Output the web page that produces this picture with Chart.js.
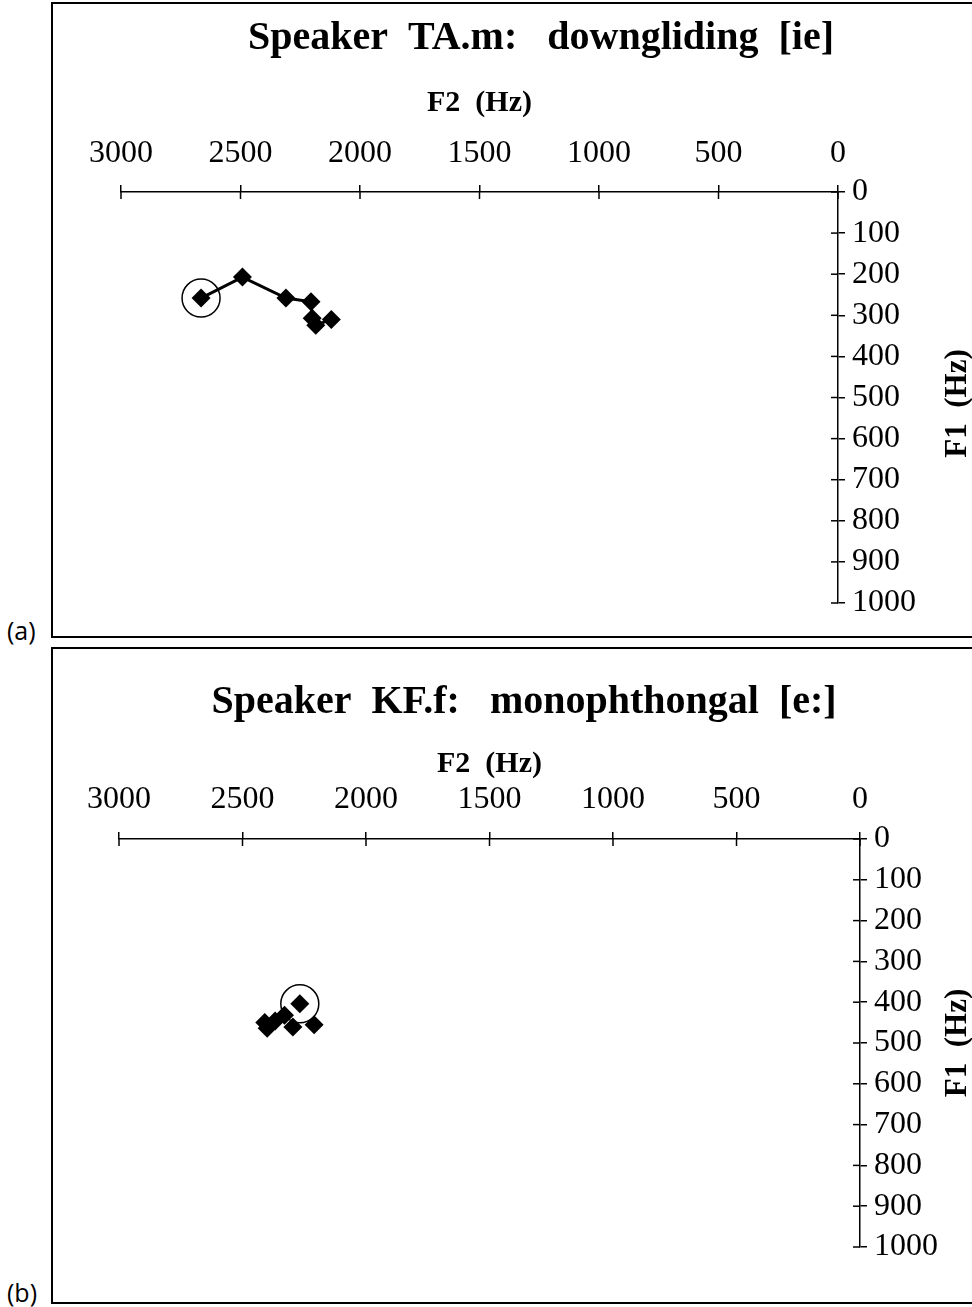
<!DOCTYPE html>
<html>
<head>
<meta charset="utf-8">
<script src="https://cdn.jsdelivr.net/npm/chart.js@4.4.1/dist/chart.umd.min.js"></script>
<style>
  html, body { margin: 0; padding: 0; background: #fff; }
  body { width: 972px; height: 1307px; position: relative; overflow: hidden; }
  .panel { position: absolute; left: 51px; width: 940px; border-left: 2px solid #000; border-top: 2px solid #000; border-bottom: 2px solid #000; box-sizing: border-box; }
  .plabel { position: absolute; left: 7px; font-family: "Open Sans", sans-serif; font-size: 25px; color: #000; }
  .wrap { position: absolute; left: 0; width: 972px; }
</style>
</head>
<body>
<div class="panel" style="top:2px;height:636px;"></div>
<div class="panel" style="top:647px;height:657px;"></div>
<div class="plabel" style="top:613px;">(a)</div>
<div class="plabel" style="top:1275px;">(b)</div>
<div class="wrap" style="top:0px;height:640px;"><canvas id="ca"></canvas></div>
<div class="wrap" style="top:645px;height:662px;"><canvas id="cb"></canvas></div>
<script>
// ---- data (F2 = x, F1 = y, in Hz) ----
const f2Range = [0, 3000];
const f1Range = [0, 1000];
const f2Step = 500;
const f1Step = 100;

const titleA = "Speaker  TA.m:   downgliding  [ie]";
const titleB = "Speaker  KF.f:   monophthongal  [e:]";
const xTitle = "F2  (Hz)";
const yTitle = "F1  (Hz)";

// panel (a): downgliding [ie], points in time order
const aF2 = [2665, 2492, 2310, 2205, 2200, 2185, 2120];
const aF1 = [258, 207, 258, 267, 307, 324, 310];
// panel (b): monophthongal [e:]
const bF2 = [2268, 2210, 2296, 2330, 2368, 2410, 2400];
const bF1 = [404, 455, 461, 432, 446, 450, 464];

function pts(xs, ys) { return xs.map((x, i) => ({ x: x, y: ys[i] })); }

const innerTicks = {
  id: 'innerTicks',
  afterDraw(chart) {
    const ctx = chart.ctx;
    const ca = chart.chartArea;
    ctx.save();
    ctx.strokeStyle = '#000';
    ctx.lineWidth = 1.5;
    const xs = chart.scales.x;
    xs.ticks.forEach((t, i) => {
      const px = xs.getPixelForTick(i);
      ctx.beginPath(); ctx.moveTo(px, ca.top); ctx.lineTo(px, ca.top + 7); ctx.stroke();
    });
    const ys = chart.scales.y;
    ys.ticks.forEach((t, i) => {
      const py = ys.getPixelForTick(i);
      ctx.beginPath(); ctx.moveTo(ca.right - 7, py); ctx.lineTo(ca.right, py); ctx.stroke();
    });
    ctx.restore();
  }
};

const textPlugin = {
  id: 'textPlugin',
  afterDraw(chart, args, opts) {
    const ctx = chart.ctx;
    ctx.save();
    ctx.fillStyle = '#000';
    ctx.textAlign = 'center';
    ctx.textBaseline = 'middle';
    ctx.font = 'bold 40px "Liberation Serif"';
    ctx.fillText(opts.title, opts.titleX, opts.titleY);
    ctx.translate(opts.yTitleX, (chart.chartArea.top + chart.chartArea.bottom) / 2 + opts.yTitleDy);
    ctx.rotate(-Math.PI / 2);
    ctx.font = 'bold 31px "Liberation Serif"';
    ctx.fillText(yTitle, 0, 0);
    ctx.restore();
  }
};

function makeChart(id, f2, f1, cfg) {
  const data = pts(f2, f1);
  return new Chart(document.getElementById(id), {
    type: 'scatter',
    data: {
      datasets: [
        {
          data: data,
          showLine: cfg.showLine,
          borderColor: '#000',
          borderWidth: 3,
          backgroundColor: '#000',
          pointStyle: 'rectRot',
          pointRadius: 9.5,
          pointBorderWidth: 0,
          pointBackgroundColor: '#000',
          order: 1
        },
        {
          data: [data[0]],
          showLine: false,
          pointStyle: 'circle',
          pointRadius: 19,
          pointBorderWidth: 1.5,
          pointBorderColor: '#000',
          pointBackgroundColor: 'rgba(0,0,0,0)',
          order: 2
        }
      ]
    },
    options: {
      responsive: true,
      maintainAspectRatio: false,
      animation: false,
      events: [],
      layout: { padding: { left: cfg.left, right: cfg.right, top: cfg.top, bottom: cfg.bottom } },
      plugins: {
        legend: { display: false },
        tooltip: { enabled: false },
        textPlugin: { title: cfg.title, titleX: cfg.titleX, titleY: cfg.titleY, yTitleX: 958, yTitleDy: cfg.yTitleDy }
      },
      scales: {
        x: {
          type: 'linear', position: 'top', reverse: true,
          min: f2Range[0], max: f2Range[1],
          afterFit(s) { s.height = cfg.xh; },
          ticks: { stepSize: f2Step, autoSkip: false, maxRotation: 0, color: '#000', padding: cfg.xpad,
                   callback: v => String(v), font: { family: '"Liberation Serif"', size: 32 } },
          grid: { drawOnChartArea: false, color: '#000', lineWidth: 1.5, tickLength: 7 },
          border: { display: true, color: '#000', width: 1.5 },
          title: { display: true, text: xTitle, color: '#000', padding: 0, font: { family: '"Liberation Serif"', size: 30, weight: 'bold', lineHeight: 1 } }
        },
        y: {
          type: 'linear', position: 'right', reverse: true,
          min: f1Range[0], max: f1Range[1],
          afterFit(s) { s.width = 100; },
          ticks: { stepSize: f1Step, autoSkip: false, color: '#000', padding: cfg.ypad,
                   callback: v => String(v), font: { family: '"Liberation Serif"', size: 32 } },
          grid: { drawOnChartArea: false, color: '#000', lineWidth: 1.5, tickLength: 7 },
          border: { display: true, color: '#000', width: 1.5 }
        }
      }
    },
    plugins: [innerTicks, textPlugin]
  });
}

makeChart('ca', aF2, aF1, { showLine: true, left: 121, right: 34, top: 88, bottom: 37, xh: 104, xpad: 12, ypad: 7,
  title: titleA, titleX: 541, titleY: 39, yTitleDy: 6 });
makeChart('cb', bF2, bF1, { showLine: false, left: 119, right: 12, top: 104, bottom: 60, xh: 90, xpad: 13, ypad: 7,
  title: titleB, titleX: 524, titleY: 58, yTitleDy: 0 });
</script>
</body>
</html>
